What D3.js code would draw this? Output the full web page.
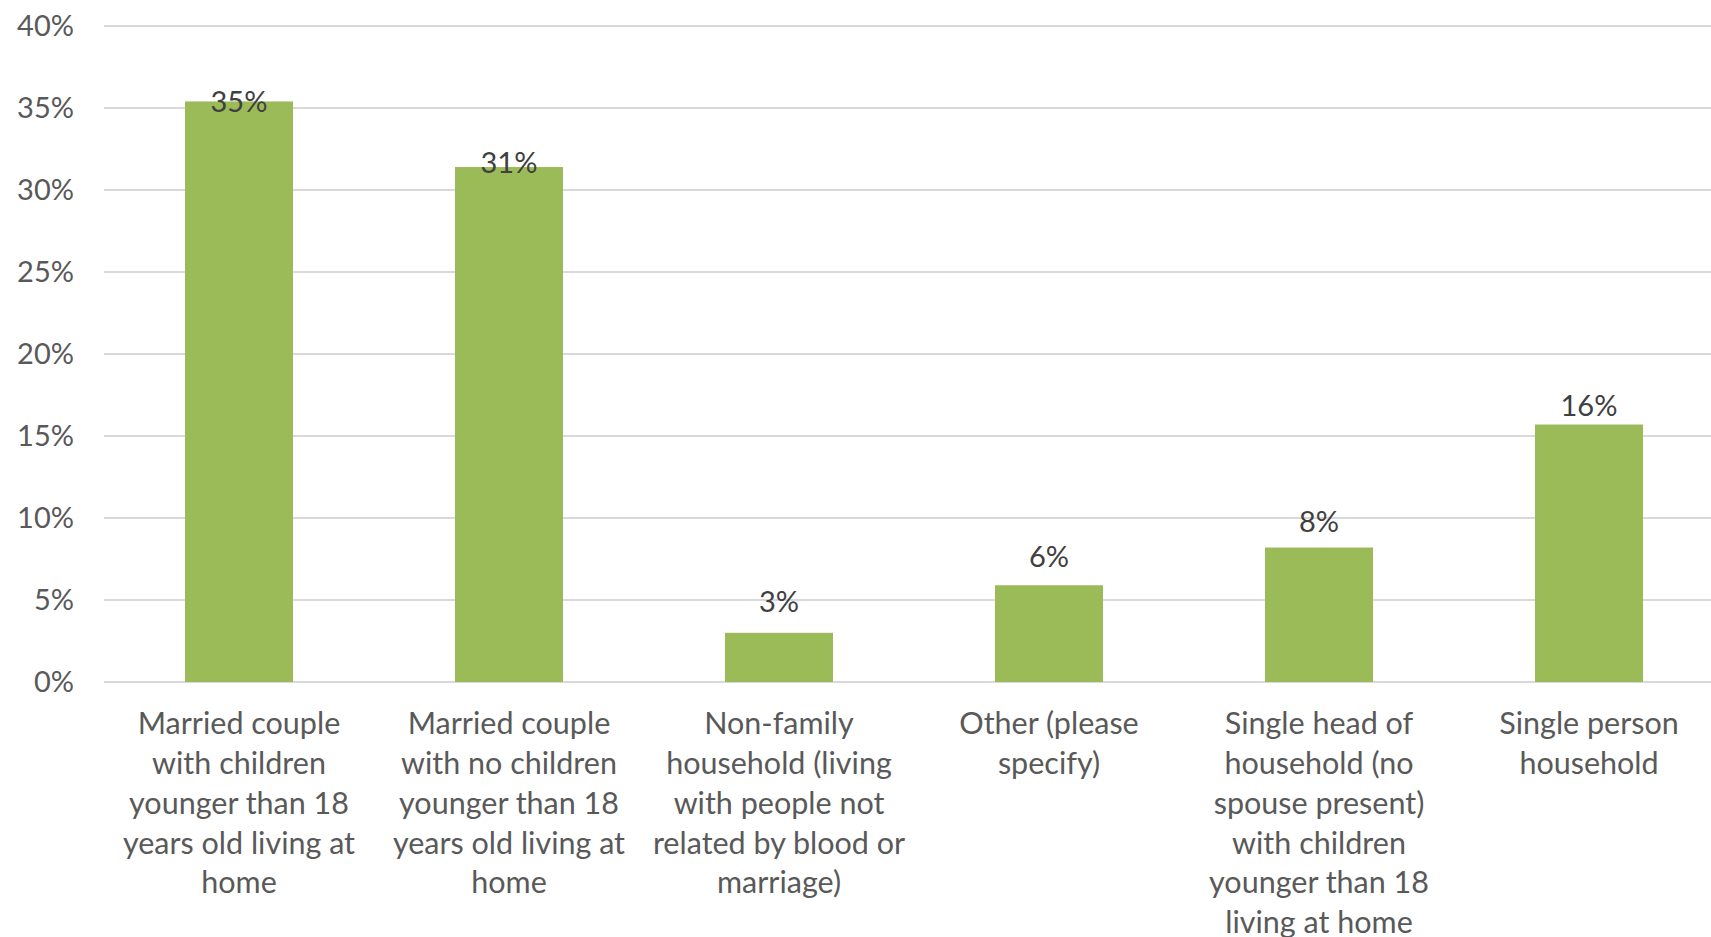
<html>
<head>
<script src="https://d3js.org/d3.v7.min.js"></script>
<style>
body { margin: 0; background: #fff; }
.tick-label { font-family: Lato, sans-serif; font-size: 29px; fill: #595959; }
.cat-label { font-family: Lato, sans-serif; font-size: 30.5px; fill: #595959; }
.value-label { font-family: Lato, sans-serif; font-size: 29px; fill: #404040; }
</style>
</head>
<body>
<svg width="1711" height="937"></svg>
<script>

// household types (line breaks as in the chart)
var categories = [
  "Married couple\nwith children\nyounger than 18\nyears old living at\nhome",
  "Married couple\nwith no children\nyounger than 18\nyears old living at\nhome",
  "Non-family\nhousehold (living\nwith people not\nrelated by blood or\nmarriage)",
  "Other (please\nspecify)",
  "Single head of\nhousehold (no\nspouse present)\nwith children\nyounger than 18\nliving at home",
  "Single person\nhousehold"
];
var shares = [35.4, 31.4, 3.0, 5.9, 8.2, 15.7];
var yTicks = [0, 5, 10, 15, 20, 25, 30, 35, 40];

var svg = d3.select("svg"),
    margin = {top: 26, left: 104, bottom: 255},
    plotRight = 1724,
    height = +svg.attr("height") - margin.top - margin.bottom;

var x = d3.scaleBand()
    .domain(categories)
    .range([margin.left, plotRight])
    .paddingInner(0.6)
    .paddingOuter(0.3);

var y = d3.scaleLinear()
    .domain([0, 40])
    .range([margin.top + height, margin.top]);

// data labels sit a bit above the bars, drifting closer on the tall ones
var labelY = d3.scaleLinear()
    .domain([0, 40])
    .range([648, 30]);

// gridlines
svg.append("g").selectAll("line")
    .data(yTicks)
  .enter().append("line")
    .attr("x1", margin.left)
    .attr("x2", plotRight)
    .attr("y1", function(d) { return y(d); })
    .attr("y2", function(d) { return y(d); })
    .attr("stroke", "#d9d9d9")
    .attr("stroke-width", 2);

// y axis labels
svg.append("g").selectAll("text")
    .data(yTicks)
  .enter().append("text")
    .attr("class", "tick-label")
    .attr("x", 74)
    .attr("y", function(d) { return y(d); })
    .attr("dy", "0.36em")
    .attr("text-anchor", "end")
    .text(function(d) { return d + "%"; });

// bars
svg.append("g").selectAll("rect")
    .data(shares)
  .enter().append("rect")
    .attr("x", function(d, i) { return x(categories[i]); })
    .attr("y", function(d) { return y(d); })
    .attr("width", x.bandwidth())
    .attr("height", function(d) { return y(0) - y(d); })
    .attr("fill", "#9bbb59");

// value labels
svg.append("g").selectAll("text")
    .data(shares)
  .enter().append("text")
    .attr("class", "value-label")
    .attr("x", function(d, i) { return x(categories[i]) + x.bandwidth() / 2; })
    .attr("y", function(d) { return labelY(d); })
    .attr("dy", "0.36em")
    .attr("text-anchor", "middle")
    .text(function(d) { return Math.round(d) + "%"; });

// category labels
var cat = svg.append("g").selectAll("text")
    .data(categories)
  .enter().append("text")
    .attr("class", "cat-label")
    .attr("text-anchor", "middle")
    .attr("transform", function(d) { return "translate(" + (x(d) + x.bandwidth() / 2) + "," + (y(0) + 41.5) + ")"; });

cat.selectAll("tspan")
    .data(function(d) { return d.split("\n"); })
  .enter().append("tspan")
    .attr("x", 0)
    .attr("y", function(d, i) { return i * 39.7; })
    .attr("dy", "0.36em")
    .text(function(d) { return d; });

</script>
</body>
</html>
